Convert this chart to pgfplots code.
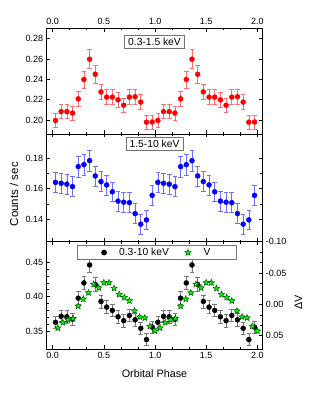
\documentclass[border=0pt]{standalone}
\usepackage{fontspec}
\setmainfont{Liberation Sans}
\usepackage{pgfplots}
\usepackage{pgfplotstable}
\pgfplotsset{compat=1.18}

\definecolor{redm}{RGB}{255,0,0}
\definecolor{rederr}{RGB}{255,110,110}
\definecolor{bluem}{RGB}{0,0,255}
\definecolor{blueerr}{RGB}{110,110,255}
\definecolor{blackerr}{RGB}{120,120,120}
\definecolor{starfill}{RGB}{0,250,0}
\definecolor{stardraw}{RGB}{0,90,0}

\pgfdeclareplotmark{fivestar}{%
  \pgfpathmoveto{\pgfqpointpolar{90}{\pgfplotmarksize}}%
  \pgfpathlineto{\pgfqpointpolar{126}{0.45\pgfplotmarksize}}%
  \pgfpathlineto{\pgfqpointpolar{162}{\pgfplotmarksize}}%
  \pgfpathlineto{\pgfqpointpolar{198}{0.45\pgfplotmarksize}}%
  \pgfpathlineto{\pgfqpointpolar{234}{\pgfplotmarksize}}%
  \pgfpathlineto{\pgfqpointpolar{270}{0.45\pgfplotmarksize}}%
  \pgfpathlineto{\pgfqpointpolar{306}{\pgfplotmarksize}}%
  \pgfpathlineto{\pgfqpointpolar{342}{0.45\pgfplotmarksize}}%
  \pgfpathlineto{\pgfqpointpolar{18}{\pgfplotmarksize}}%
  \pgfpathlineto{\pgfqpointpolar{54}{0.45\pgfplotmarksize}}%
  \pgfpathclose
  \pgfusepathqfillstroke
}

\pgfplotstableread{
x y e
0.0278 0.1995 0.0070
0.0833 0.2082 0.0069
0.1389 0.2082 0.0069
0.1944 0.2068 0.0069
0.2500 0.2208 0.0077
0.3056 0.2398 0.0082
0.3611 0.2598 0.0092
0.4167 0.2450 0.0085
0.4722 0.2276 0.0075
0.5278 0.2225 0.0072
0.5833 0.2225 0.0072
0.6389 0.2198 0.0072
0.6944 0.2145 0.0072
0.7500 0.2225 0.0072
0.8056 0.2228 0.0072
0.8611 0.2176 0.0072
0.9167 0.1978 0.0068
0.9722 0.1980 0.0068
1.0278 0.1995 0.0070
1.0833 0.2082 0.0069
1.1389 0.2082 0.0069
1.1944 0.2068 0.0069
1.2500 0.2208 0.0077
1.3056 0.2398 0.0082
1.3611 0.2598 0.0092
1.4167 0.2450 0.0085
1.4722 0.2276 0.0075
1.5278 0.2225 0.0072
1.5833 0.2225 0.0072
1.6389 0.2198 0.0072
1.6944 0.2145 0.0072
1.7500 0.2225 0.0072
1.8056 0.2228 0.0072
1.8611 0.2176 0.0072
1.9167 0.1978 0.0068
1.9722 0.1980 0.0068
}\softtab

\pgfplotstableread{
x y e
0.0278 0.1642 0.0065
0.0833 0.1636 0.0065
0.1389 0.1630 0.0065
0.1944 0.1614 0.0065
0.2500 0.1745 0.0068
0.3056 0.1758 0.0068
0.3611 0.1784 0.0071
0.4167 0.1684 0.0066
0.4722 0.1647 0.0065
0.5278 0.1625 0.0065
0.5833 0.1580 0.0065
0.6389 0.1519 0.0065
0.6944 0.1512 0.0065
0.7500 0.1509 0.0065
0.8056 0.1437 0.0065
0.8611 0.1368 0.0066
0.9167 0.1396 0.0065
0.9722 0.1557 0.0065
1.0278 0.1642 0.0065
1.0833 0.1636 0.0065
1.1389 0.1630 0.0065
1.1944 0.1614 0.0065
1.2500 0.1745 0.0068
1.3056 0.1758 0.0068
1.3611 0.1784 0.0071
1.4167 0.1684 0.0066
1.4722 0.1647 0.0065
1.5278 0.1625 0.0065
1.5833 0.1580 0.0065
1.6389 0.1519 0.0065
1.6944 0.1512 0.0065
1.7500 0.1509 0.0065
1.8056 0.1437 0.0065
1.8611 0.1368 0.0066
1.9167 0.1396 0.0065
1.9722 0.1557 0.0065
}\hardtab

\pgfplotstableread{
x y e
0.0278 0.3627 0.0092
0.0833 0.3714 0.0092
0.1389 0.3707 0.0092
0.1944 0.3672 0.0092
0.2500 0.3978 0.0095
0.3056 0.4200 0.0100
0.3611 0.4461 0.0112
0.4167 0.4178 0.0100
0.4722 0.3930 0.0095
0.5278 0.3848 0.0093
0.5833 0.3800 0.0093
0.6389 0.3707 0.0092
0.6944 0.3650 0.0092
0.7500 0.3726 0.0092
0.8056 0.3663 0.0092
0.8611 0.3539 0.0090
0.9167 0.3375 0.0088
0.9722 0.3557 0.0090
1.0278 0.3627 0.0092
1.0833 0.3714 0.0092
1.1389 0.3707 0.0092
1.1944 0.3672 0.0092
1.2500 0.3978 0.0095
1.3056 0.4200 0.0100
1.3611 0.4461 0.0112
1.4167 0.4178 0.0100
1.4722 0.3930 0.0095
1.5278 0.3848 0.0093
1.5833 0.3800 0.0093
1.6389 0.3707 0.0092
1.6944 0.3650 0.0092
1.7500 0.3726 0.0092
1.8056 0.3663 0.0092
1.8611 0.3539 0.0090
1.9167 0.3375 0.0088
1.9722 0.3557 0.0090
}\totaltab

\pgfplotstableread{
x dv
0.05 0.0375
0.10 0.0288
0.15 0.0247
0.20 0.0224
0.25 0.0027
0.30 -0.0085
0.35 -0.0186
0.40 -0.0322
0.45 -0.0264
0.50 -0.0347
0.55 -0.0347
0.60 -0.0256
0.65 -0.0160
0.70 -0.0112
0.75 -0.0058
0.80 0.0103
0.85 0.0199
0.90 0.0215
0.95 0.0348
1.00 0.0423
1.05 0.0375
1.10 0.0288
1.15 0.0247
1.20 0.0224
1.25 0.0027
1.30 -0.0085
1.35 -0.0186
1.40 -0.0322
1.45 -0.0264
1.50 -0.0347
1.55 -0.0347
1.60 -0.0256
1.65 -0.0160
1.70 -0.0112
1.75 -0.0058
1.80 0.0103
1.85 0.0199
1.90 0.0215
1.95 0.0348
2.00 0.0423
}\vtab

\tikzset{labelbox/.style={draw=black!55, fill=white, line width=0.7pt, inner xsep=3.5pt, inner ysep=2.8pt,
    font=\fontsize{10.3}{11}\selectfont}}

\pgfplotsset{
  panel/.style={
    scale only axis, width=215.6pt,
    xmin=-0.058, xmax=2.048,
    xtick={0,0.5,1,1.5,2}, minor x tick num=2,
    tick align=inside, major tick length=3.5pt, minor tick length=2pt,
    every tick/.style={black, line width=0.6pt},
    axis line style={black, line width=0.7pt},
    /pgf/number format/assume math mode=true,
    ticklabel style={font=\fontsize{9}{10}\selectfont},
    xticklabel style={/pgf/number format/fixed, /pgf/number format/fixed zerofill, /pgf/number format/precision=1},
    yticklabel style={/pgf/number format/fixed, /pgf/number format/fixed zerofill, /pgf/number format/precision=2},
    scaled y ticks=false, scaled x ticks=false,
    anchor=south west,
  },
  errs/.style={
    only marks, mark=*, mark size=2.5pt,
    error bars/.cd, y dir=both, y explicit,
    error bar style={line width=0.7pt, #1},
    error mark options={rotate=90, mark size=2.3pt, line width=0.7pt, #1},
  },
}

\begin{document}
\begin{tikzpicture}
\useasboundingbox (0,0) rectangle (308pt,398pt);

% top panel
\begin{axis}[panel, at={(46.7pt,264pt)}, height=105.7pt,
  ymin=0.1862, ymax=0.2902, ytick={0.20,0.22,0.24,0.26,0.28},
  xticklabel pos=upper]
\addplot[draw=redm, fill=redm, errs=rederr] table[x=x, y=y, y error=e] {\softtab};
\node[labelbox] at (rel axis cs:0.5,0.8685) {0.3-1.5 keV};
\end{axis}

% middle panel
\begin{axis}[panel, at={(46.7pt,156.3pt)}, height=107.7pt,
  ymin=0.1253, ymax=0.1959, ytick={0.14,0.16,0.18}, minor y tick num=1,
  xticklabels={},
  ylabel={Counts / sec},
  every axis y label/.style={at={(rel axis cs:0,0.5)}, xshift=-32.7pt, yshift=-6.3pt, rotate=90, anchor=center,
    font=\fontsize{11.5}{13}\selectfont}]
\addplot[draw=bluem, fill=bluem, errs=blueerr] table[x=x, y=y, y error=e] {\hardtab};
\node[labelbox] at (rel axis cs:0.5,0.905) {1.5-10 keV};
\end{axis}

% bottom panel, left axis
\begin{axis}[panel, at={(46.7pt,49pt)}, height=107.3pt,
  ymin=0.3238, ymax=0.4800, ytick={0.35,0.40,0.45}, minor y tick num=4,
  ytick pos=left,
  xlabel={Orbital Phase},
  every axis x label/.style={at={(rel axis cs:0.5,0)}, yshift=-25pt, anchor=center,
    font=\fontsize{10.8}{12}\selectfont}]
\addplot[draw=black, fill=black, errs=blackerr] table[x=x, y=y, y error=e] {\totaltab};
\end{axis}

% bottom panel, right axis (Delta V)
\begin{axis}[panel, at={(46.7pt,49pt)}, height=107.3pt,
  axis x line=none, axis y line*=right, y dir=reverse,
  ymin=-0.1, ymax=0.0711, ytick={-0.10,-0.05,0,0.05}, minor y tick num=2,
  ylabel={ΔV},
  every axis y label/.style={at={(rel axis cs:1,0.5)}, xshift=36.2pt, yshift=-7.2pt, rotate=90, anchor=center,
    font=\fontsize{10.8}{12}\selectfont},
  legend columns=2,
  legend style={at={(rel axis cs:0.5116,0.969)}, anchor=north, draw=black!55, line width=0.7pt, fill=white,
    font=\fontsize{10.3}{11}\selectfont, inner xsep=24pt, inner ysep=1.2pt,
    nodes={inner ysep=1.5pt},
    /tikz/every odd column/.append style={column sep=10.5pt},
    /tikz/every even column/.append style={column sep=13.9pt}},
  legend cell align=left]
\addlegendimage{only marks, mark=*, mark size=2.5pt, draw=black, fill=black}
\addlegendentry{0.3-10 keV}
\addplot[only marks, mark=fivestar, mark size=3.3pt, draw=stardraw, fill=starfill, line width=0.5pt]
  table[x=x, y=dv] {\vtab};
\addlegendentry{V\hspace{-6pt}}
\end{axis}
\end{tikzpicture}
\end{document}
